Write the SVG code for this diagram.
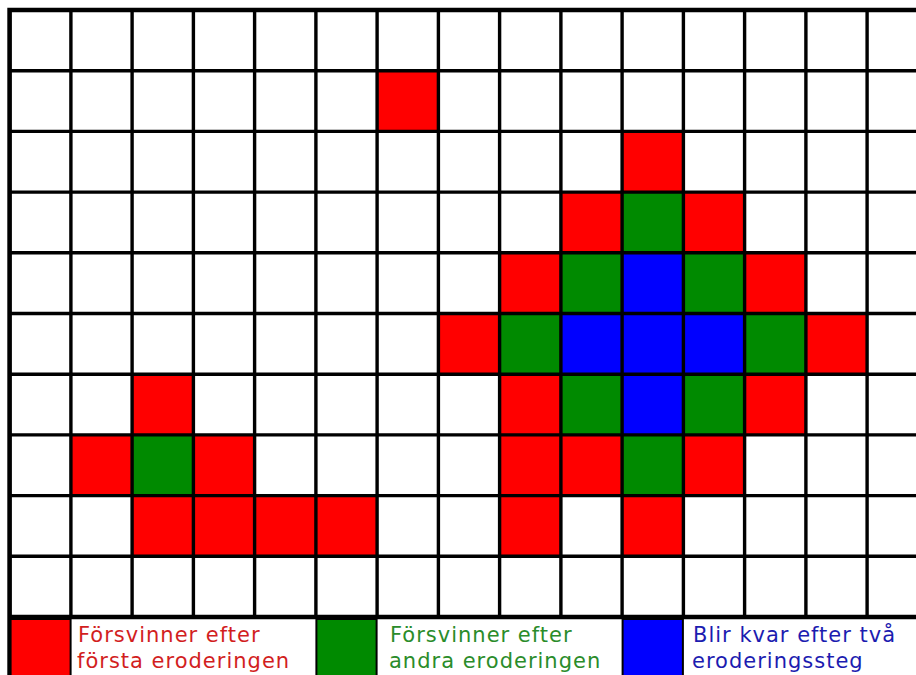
<svg xmlns="http://www.w3.org/2000/svg" width="916" height="675" viewBox="0 0 916 675">
<style>
.r{fill:#ff0000}.g{fill:#008a00}.b{fill:#0000ff}
.gl{stroke:#000;stroke-width:3.4;fill:none}
.bd{stroke:#000;stroke-width:4.6;fill:none}
.lg{stroke:#000;stroke-width:2}
.t{font-family:"DejaVu Sans",Verdana,sans-serif;font-size:21px;letter-spacing:1px}
</style>
<rect x="0" y="0" width="916" height="675" fill="#fff"/>
<g id="cells">
<rect class="r" x="377.1" y="70.7" width="61.3" height="60.7"/>
<rect class="r" x="622.1" y="131.4" width="61.3" height="60.7"/>
<rect class="r" x="560.9" y="192.1" width="61.3" height="60.7"/>
<rect class="g" x="622.1" y="192.1" width="61.3" height="60.7"/>
<rect class="r" x="683.4" y="192.1" width="61.3" height="60.7"/>
<rect class="r" x="499.6" y="252.8" width="61.3" height="60.7"/>
<rect class="g" x="560.9" y="252.8" width="61.3" height="60.7"/>
<rect class="b" x="622.1" y="252.8" width="61.3" height="60.7"/>
<rect class="g" x="683.4" y="252.8" width="61.3" height="60.7"/>
<rect class="r" x="744.6" y="252.8" width="61.3" height="60.7"/>
<rect class="r" x="438.4" y="313.5" width="61.3" height="60.7"/>
<rect class="g" x="499.6" y="313.5" width="61.3" height="60.7"/>
<rect class="b" x="560.9" y="313.5" width="183.8" height="60.7"/>
<rect class="g" x="744.6" y="313.5" width="61.3" height="60.7"/>
<rect class="r" x="805.9" y="313.5" width="61.3" height="60.7"/>
<rect class="r" x="132.1" y="374.2" width="61.3" height="60.7"/>
<rect class="r" x="499.6" y="374.2" width="61.3" height="60.7"/>
<rect class="g" x="560.9" y="374.2" width="61.3" height="60.7"/>
<rect class="b" x="622.1" y="374.2" width="61.3" height="60.7"/>
<rect class="g" x="683.4" y="374.2" width="61.3" height="60.7"/>
<rect class="r" x="744.6" y="374.2" width="61.3" height="60.7"/>
<rect class="r" x="70.9" y="434.9" width="61.3" height="60.7"/>
<rect class="g" x="132.1" y="434.9" width="61.3" height="60.7"/>
<rect class="r" x="193.4" y="434.9" width="61.3" height="60.7"/>
<rect class="r" x="499.6" y="434.9" width="122.5" height="60.7"/>
<rect class="g" x="622.1" y="434.9" width="61.3" height="60.7"/>
<rect class="r" x="683.4" y="434.9" width="61.3" height="60.7"/>
<rect class="r" x="132.1" y="495.6" width="245" height="60.7"/>
<rect class="r" x="499.6" y="495.6" width="61.3" height="60.7"/>
<rect class="r" x="622.1" y="495.6" width="61.3" height="60.7"/>
</g>
<g id="grid">
<path class="gl" d="M70.9 10V617M132.1 10V617M193.4 10V617M254.6 10V617M315.9 10V617M377.1 10V617M438.4 10V617M499.6 10V617M560.9 10V617M622.1 10V617M683.4 10V617M744.6 10V617M805.9 10V617M867.1 10V617"/>
<path class="gl" d="M9.6 70.7H916M9.6 131.4H916M9.6 192.1H916M9.6 252.8H916M9.6 313.5H916M9.6 374.2H916M9.6 434.9H916M9.6 495.6H916M9.6 556.3H916"/>
<path class="bd" d="M9.6 10H916M9.6 7.7V675M9.6 617H916"/>
</g>
<g id="legend-red">
<rect class="r lg" x="10.6" y="619" width="60" height="60"/>
<text class="t" x="78" y="642" fill="#d21e1e">Försvinner efter</text>
<text class="t" x="77" y="668" fill="#d21e1e">första eroderingen</text>
</g>
<g id="legend-green">
<rect class="g lg" x="316.4" y="619" width="60.2" height="60"/>
<text class="t" x="390" y="642" fill="#2a8c2a">Försvinner efter</text>
<text class="t" x="389" y="668" fill="#2a8c2a">andra eroderingen</text>
</g>
<g id="legend-blue">
<rect class="b lg" x="622.6" y="619" width="60.3" height="60"/>
<text class="t" x="693" y="642" fill="#1c1cb0">Blir kvar efter två</text>
<text class="t" x="692" y="668" fill="#1c1cb0">eroderingssteg</text>
</g>
</svg>
